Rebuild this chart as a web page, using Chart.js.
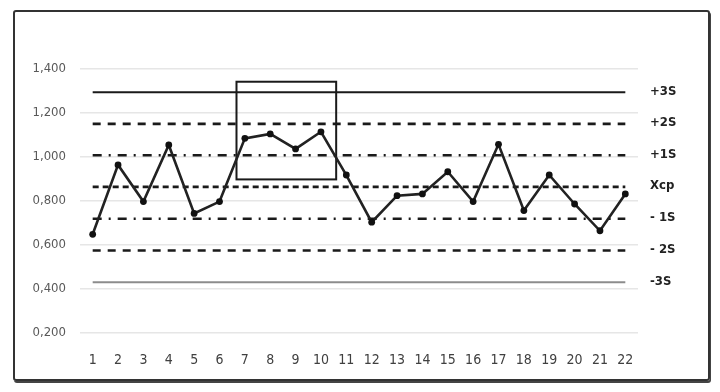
<!DOCTYPE html>
<html>
<head>
<meta charset="utf-8">
<script src="https://cdn.jsdelivr.net/npm/chart.js@4.4.1/dist/chart.umd.min.js"></script>
<style>
  html, body { margin: 0; padding: 0; background: #fff; }
  #wrap { position: relative; width: 720px; height: 392px; }
  #frame {
    position: absolute; left: 13px; top: 10px; width: 697px; height: 371px;
    box-sizing: border-box; border: 2px solid #333; border-radius: 3px;
    box-shadow: 1px 2px 0 #444; pointer-events: none;
  }
  canvas { position: absolute; left: 0; top: 0; }
</style>
</head>
<body>
<div id="wrap">
  <canvas id="chart" width="720" height="392"></canvas>
  <div id="frame"></div>
</div>
<script>
// data
const categories = ['1','2','3','4','5','6','7','8','9','10','11','12','13','14','15','16','17','18','19','20','21','22'];
const values = [0.647, 0.963, 0.796, 1.054, 0.742, 0.796, 1.084, 1.104, 1.036, 1.114, 0.917,
                0.702, 0.823, 0.831, 0.932, 0.796, 1.057, 0.755, 0.917, 0.785, 0.663, 0.831];
const limitNames = ['+3S', '+2S', '+1S', 'Xcp', '- 1S', '- 2S', '-3S'];
const limitValues = [1.294, 1.150, 1.007, 0.863, 0.718, 0.573, 0.429];
const yTicks = [0.2, 0.4, 0.6, 0.8, 1.0, 1.2, 1.4];
// highlighted zone (category position / value)
const boxX = [6.67, 10.6];
const boxY = [0.897, 1.342];

// line look for each limit
const limitStyles = [
    { color: '#1a1a1a', width: 2.2, dash: [] },
    { color: '#1a1a1a', width: 2.6, dash: [8, 7] },
    { color: '#1a1a1a', width: 2.6, dash: [9, 7, 2, 7] },
    { color: '#1a1a1a', width: 2.6, dash: [6, 4] },
    { color: '#1a1a1a', width: 2.6, dash: [9, 7, 2, 7] },
    { color: '#1a1a1a', width: 2.6, dash: [8, 7] },
    { color: '#8c8c8c', width: 2, dash: [] }
];

const fontFam = '"Liberation Sans Narrow", "DejaVu Sans Condensed", sans-serif';

const controlLines = {
    id: 'controlLines',
    beforeDatasetsDraw(chart) {
        const ctx = chart.ctx;
        const xs = chart.scales.x, ys = chart.scales.y;
        const x0 = xs.getPixelForValue(0);
        const x1 = xs.getPixelForValue(categories.length - 1);
        ctx.save();
        limitValues.forEach((v, i) => {
            const st = limitStyles[i];
            const y = ys.getPixelForValue(v);
            ctx.beginPath();
            ctx.strokeStyle = st.color;
            ctx.lineWidth = st.width;
            ctx.setLineDash(st.dash);
            ctx.moveTo(x0, y);
            ctx.lineTo(x1, y);
            ctx.stroke();
        });
        // box around the run
        ctx.setLineDash([]);
        ctx.strokeStyle = '#1a1a1a';
        ctx.lineWidth = 2;
        const bx0 = xs.getPixelForValue(boxX[0] - 1), bx1 = xs.getPixelForValue(boxX[1] - 1);
        const by0 = ys.getPixelForValue(boxY[1]), by1 = ys.getPixelForValue(boxY[0]);
        ctx.strokeRect(bx0, by0, bx1 - bx0, by1 - by0);
        ctx.restore();
    },
    afterDraw(chart) {
        const ctx = chart.ctx;
        const ys = chart.scales.y;
        ctx.save();
        ctx.font = 'bold 13px ' + fontFam;
        ctx.fillStyle = '#222';
        ctx.textBaseline = 'middle';
        limitNames.forEach((name, i) => {
            ctx.fillText(name, chart.chartArea.right + 12, ys.getPixelForValue(limitValues[i]) - 1);
        });
        ctx.restore();
    }
};

new Chart(document.getElementById('chart'), {
    type: 'line',
    data: {
        labels: categories,
        datasets: [{
            data: values,
            borderColor: '#222',
            borderWidth: 2.6,
            backgroundColor: '#111',
            pointRadius: 3.4,
            pointBorderWidth: 0,
            tension: 0
        }]
    },
    options: {
        responsive: false,
        animation: false,
        events: [],
        layout: { padding: { left: 0, top: 69, right: 82, bottom: 0 } },
        plugins: { legend: { display: false }, tooltip: { enabled: false } },
        scales: {
            x: {
                offset: true,
                grid: { display: false },
                border: { display: false },
                ticks: { color: '#404040', padding: 12, maxRotation: 0, font: { family: fontFam, size: 14 } },
                afterFit(scale) { scale.height = 59.6; }
            },
            y: {
                min: 0.2,
                max: 1.4,
                afterBuildTicks(scale) { scale.ticks = yTicks.map(v => ({ value: v })); },
                grid: { color: '#e6e6e6', lineWidth: 1.5, drawTicks: false },
                border: { display: false },
                ticks: {
                    color: '#595959',
                    padding: 14,
                    font: { family: fontFam, size: 13 },
                    callback: v => v.toFixed(3).replace('.', ',')
                },
                afterFit(scale) { scale.width = 80; }
            }
        }
    },
    plugins: [controlLines]
});
</script>
</body>
</html>
